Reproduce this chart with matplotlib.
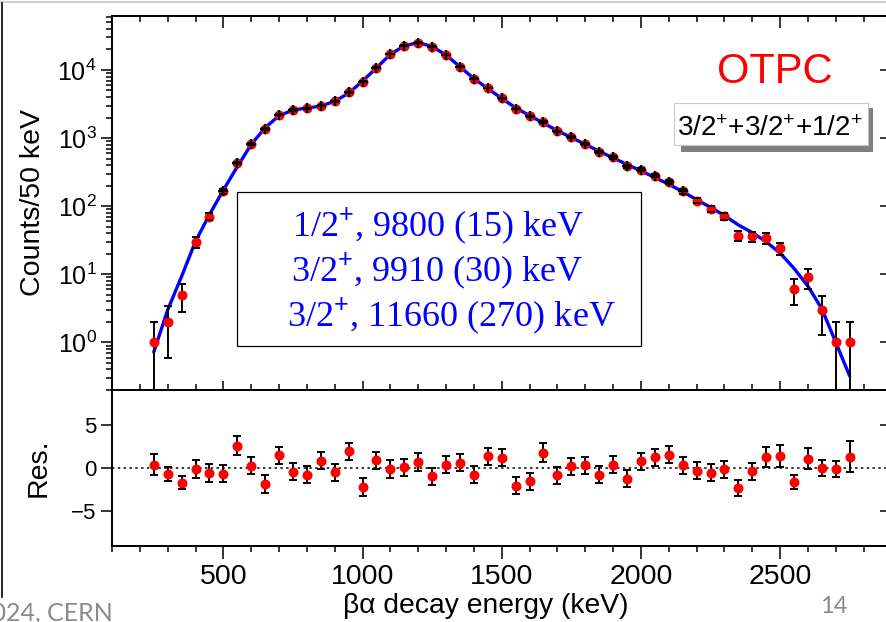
import numpy as np
import matplotlib
matplotlib.use("Agg")
import matplotlib.pyplot as plt
from matplotlib.patches import Rectangle
from matplotlib.lines import Line2D
from matplotlib.ticker import LogLocator, FixedLocator, MultipleLocator, FuncFormatter, NullFormatter, NullLocator

plt.rcParams['font.family'] = ['Liberation Sans', 'DejaVu Sans']
plt.rcParams['mathtext.fontset'] = 'custom'
plt.rcParams['mathtext.rm'] = 'Liberation Sans'
plt.rcParams['mathtext.it'] = 'Liberation Sans:italic'
plt.rcParams['mathtext.bf'] = 'Liberation Sans:bold'

# beta-delayed alpha spectrum, 50 keV bins
energy = [250, 300, 350, 400, 450, 500, 550, 600, 650, 700,
          750, 800, 850, 900, 950, 1000, 1050, 1100, 1150, 1200,
          1250, 1300, 1350, 1400, 1450, 1500, 1550, 1600, 1650, 1700,
          1750, 1800, 1850, 1900, 1950, 2000, 2050, 2100, 2150, 2200,
          2250, 2300, 2350, 2400, 2450, 2500, 2550, 2600, 2650, 2700,
          2750]
counts = [1, 2, 5, 30, 70, 165, 430, 820, 1370, 2200,
          2580, 2720, 2980, 3450, 4680, 6700, 10860, 17000, 22750, 25200,
          22000, 16600, 11200, 7410, 5420, 3870, 2690, 2080, 1720, 1254,
          1025, 820, 625, 522, 385, 345, 281, 227, 166, 121,
          91, 71, 37, 36, 34, 24, 6, 9, 3, 1,
          1]
# fitted R-matrix curve (3/2+ + 3/2+ + 1/2+) evaluated at the bin centres
fit_counts = [0.72, 3.0, 9.3, 30.5, 75, 172, 380, 805, 1420, 2130,
              2580, 2760, 2950, 3470, 4560, 6850, 10750, 16900, 22700, 25100,
              22150, 16550, 11150, 7470, 5330, 3820, 2780, 2140, 1660, 1280,
              1020, 810, 640, 512, 410, 330, 264, 210, 163, 125,
              96, 73, 53, 41, 30, 20.5, 12.2, 6.7, 3.1, 1.0,
              0.32]
residuals = [0.35, -0.7, -1.74, -0.12, -0.58, -0.66, 2.58, 0.27, -1.85, 1.46,
             -0.46, -0.78, 0.84, -0.5, 1.93, -2.2, 0.88, -0.12, 0.07, 0.69,
             -0.97, 0.38, 0.58, -0.78, 1.35, 1.16, -2.05, -1.54, 1.74, -0.85,
             0.19, 0.31, -0.78, 0.38, -1.24, 0.77, 1.23, 1.54, 0.31, -0.31,
             -0.54, -0.19, -2.31, -0.39, 1.27, 1.35, -1.62, 1.04, 0.0, -0.12,
             1.27]
residual_err = [1.2, 0.8, 0.75, 1.0, 1.0, 1.0, 1.05, 1.0, 1.0, 1.0,
                1.0, 1.0, 1.0, 1.0, 1.0, 1.0, 1.0, 1.0, 1.0, 1.0,
                1.0, 1.0, 1.0, 1.0, 1.0, 1.0, 1.0, 1.0, 1.1, 1.0,
                1.0, 1.0, 1.0, 1.0, 1.0, 1.0, 1.0, 1.0, 1.0, 1.0,
                1.0, 1.0, 0.9, 1.0, 1.15, 1.25, 0.8, 1.2, 0.95, 0.95,
                1.8]
level_lines = [r"1/2$^{+}$, 9800 (15) keV",
               r"3/2$^{+}$, 9910 (30) keV",
               r"3/2$^{+}$, 11660 (270) keV"]
model_label = r"3/2$^{+}$+3/2$^{+}$+1/2$^{+}$"

energy = np.array(energy, dtype=float)
counts = np.array(counts, dtype=float)
count_err = np.sqrt(counts)
residuals = np.array(residuals)
residual_err = np.array(residual_err)

W, H = 886, 622
fig = plt.figure(figsize=(W / 100, H / 100), dpi=100)


def fx(px):
    return px / W


def fy(py):
    return 1 - py / H


X0, X1 = 112, 887
Y_TOP, Y_MID, Y_BOT = 16, 390, 545.7
ax = fig.add_axes([fx(X0), fy(Y_MID), (X1 - X0) / W, (Y_MID - Y_TOP) / H])
axr = fig.add_axes([fx(X0), fy(Y_BOT), (X1 - X0) / W, (Y_BOT - Y_MID) / H], sharex=ax)

LW = 1.4
RED = '#ff0000'
BLUE = '#0000ff'

for a in (ax, axr):
    for s in a.spines.values():
        s.set_linewidth(LW)

# ---- spectrum panel ----
ax.set_yscale('log')
ax.plot(energy, fit_counts, color=BLUE, lw=2.4, zorder=2, solid_capstyle='round')
ax.errorbar(energy, counts, yerr=count_err, fmt='none', ecolor='black',
            elinewidth=LW, capsize=0, zorder=3)
ax.plot(energy, counts, 'o', color=RED, ms=6.2, mec=RED, zorder=4)
ax.plot(energy, counts + count_err, '_', color='black', ms=5.6, mew=LW, zorder=5)
ax.plot(energy, counts - count_err, '_', color='black', ms=5.6, mew=LW, zorder=5)
# where the statistical bar is hidden inside the marker, it shows as a cross
tight = counts >= 150
ax.plot(energy[tight], counts[tight], '+', color='black', ms=6.5, mew=1.6, zorder=6)

ax.set_xlim(100, 2884)
ax.set_ylim(0.2, 6.2e4)
ax.yaxis.set_major_locator(LogLocator(base=10, numticks=10))
ax.yaxis.set_minor_locator(LogLocator(base=10, subs=np.arange(2, 10), numticks=20))
ax.yaxis.set_major_formatter(FuncFormatter(lambda v, p: r"$10^{%d}$" % int(round(np.log10(v)))))
ax.yaxis.set_minor_formatter(NullFormatter())
ax.xaxis.set_major_locator(MultipleLocator(500))
ax.xaxis.set_minor_locator(MultipleLocator(100))
ax.tick_params(axis='x', which='both', direction='inout', bottom=True, top=False,
               labelbottom=False, width=1.1)
ax.tick_params(axis='x', which='major', length=13)
ax.tick_params(axis='x', which='minor', length=8)
ax.tick_params(axis='y', which='both', direction='out', left=True, right=False,
               labelsize=18, width=1.1, pad=3)
ax.tick_params(axis='y', which='major', length=8)
ax.tick_params(axis='y', which='minor', length=4.5)
ax.set_ylabel("Counts/50 keV", fontsize=20.5, labelpad=8)

top = ax.secondary_xaxis('top')
top.xaxis.set_major_locator(MultipleLocator(500))
top.xaxis.set_minor_locator(MultipleLocator(100))
top.tick_params(which='both', direction='in', labeltop=False, width=1.1)
top.tick_params(which='major', length=8.5)
top.tick_params(which='minor', length=4.5)
top.spines['top'].set_linewidth(LW)

rgt = ax.secondary_yaxis('right')
rgt.yaxis.set_major_locator(LogLocator(base=10, numticks=10))
rgt.yaxis.set_minor_locator(NullLocator())
rgt.tick_params(which='major', direction='in', length=5, width=1.1, labelright=False)

fig.text(fx(775), fy(83.3), "OTPC", color=RED, fontsize=30,
         ha='center', va='baseline', zorder=12)

# model label with drop shadow
fig.add_artist(Rectangle((fx(680.7), fy(152.3)), (873.3 - 680.7) / W, (152.3 - 108) / H,
                         transform=fig.transFigure, facecolor='#808080', edgecolor='none', zorder=10))
fig.add_artist(Rectangle((fx(674), fy(145)), (868.3 - 674) / W, (145 - 103.3) / H,
                         transform=fig.transFigure, facecolor='white', edgecolor='#c8c8c8',
                         lw=0.8, zorder=11))
fig.text(fx(770), fy(136.5), model_label, fontsize=20, ha='center', va='baseline',
         color='black', zorder=12)

# resonance parameters box
fig.add_artist(Rectangle((fx(236.7), fy(346)), (641 - 236.7) / W, (346 - 191.7) / H,
                         transform=fig.transFigure, facecolor='white', edgecolor='black',
                         lw=0.9, zorder=10))
for txt, xl, yb in zip(level_lines, [292, 291, 287], [236, 281.5, 326.5]):
    fig.text(fx(xl), fy(yb), txt, fontsize=26, family=['Liberation Serif', 'DejaVu Serif'],
             color=BLUE, ha='left', va='baseline', zorder=12)

# ---- residual panel ----
axr.axhline(0, color='black', lw=1.1, ls=(0, (1.6, 2.2)), zorder=1)
axr.errorbar(energy, residuals, yerr=residual_err, fmt='none', ecolor='black',
             elinewidth=LW, capsize=0, zorder=3)
axr.plot(energy, residuals, 'o', color=RED, ms=6.2, mec=RED, zorder=4)
axr.plot(energy, residuals + residual_err, '_', color='black', ms=5.6, mew=LW, zorder=5)
axr.plot(energy, residuals - residual_err, '_', color='black', ms=5.6, mew=LW, zorder=5)
axr.set_ylim(-9, 9)
axr.yaxis.set_major_locator(FixedLocator([-5, 0, 5]))
axr.yaxis.set_major_formatter(FuncFormatter(lambda v, p: "\u22125" if v < 0 else "%d" % v))
axr.tick_params(axis='x', which='both', direction='out', top=False, labelsize=20.5,
                width=1.1, pad=4)
axr.tick_params(axis='x', which='major', length=9)
axr.tick_params(axis='x', which='minor', length=4.5)
axr.tick_params(axis='y', which='major', direction='out', length=8, width=1.1,
                right=False, labelsize=16)
axr.set_ylabel("Res.", fontsize=20.5, labelpad=14)

rgt2 = axr.secondary_yaxis('right')
rgt2.yaxis.set_major_locator(FixedLocator([-5, 5]))
rgt2.tick_params(which='major', direction='in', length=5, width=1.1, labelright=False)

fig.text(fx(485.5), fy(613), "\u03b2\u03b1 decay energy (keV)", fontsize=20.3,
         ha='center', va='baseline')

# slide furniture
fig.add_artist(Line2D([0, 1], [fy(2), fy(2)], transform=fig.transFigure,
                      color='#cfcfcf', lw=1.5))
fig.add_artist(Line2D([fx(2.2), fx(2.2)], [fy(3), fy(597)], transform=fig.transFigure,
                      color='black', lw=1.2))
fig.text(fx(113), fy(621), "2024, CERN", fontsize=18, family=['Lato', 'DejaVu Sans'],
         color='#8a8a8a', ha='right', va='baseline')
fig.text(fx(834), fy(613.3), "14", fontsize=17, family=['Lato', 'DejaVu Sans'],
         color='#8a8a8a', ha='center', va='baseline')

fig.savefig("out.png", dpi=100)
